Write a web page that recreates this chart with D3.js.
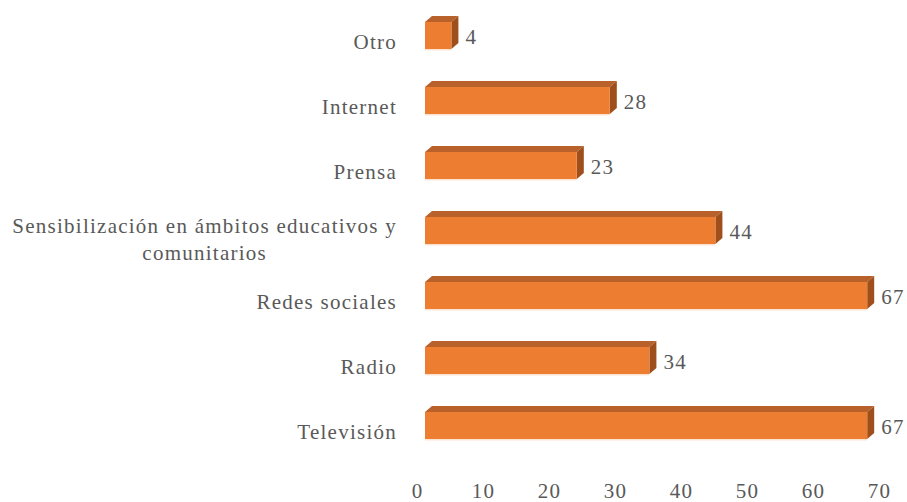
<!DOCTYPE html>
<html>
<head>
<meta charset="utf-8">
<script src="https://cdn.jsdelivr.net/npm/d3@7"></script>
<style>
  html, body { margin: 0; padding: 0; background: #ffffff; }
</style>
</head>
<body>
<svg id="chart" width="907" height="502"></svg>
<script>
// Medios por los que se recibe la información (frecuencias)
const categories = [
  "Otro",
  "Internet",
  "Prensa",
  "Sensibilización en ámbitos educativos y comunitarios",
  "Redes sociales",
  "Radio",
  "Televisión"
];
const values = [4, 28, 23, 44, 67, 34, 67];
const tickValues = [0, 10, 20, 30, 40, 50, 60, 70];

const FONT = "'Liberation Serif', 'DejaVu Serif', Tinos, 'Noto Serif', serif";
const TEXT_COLOR = "#595959";

const svg = d3.select("#chart");
const fontSize = 21;
const letterSpacing = 1.25;

// Plot geometry
const x = d3.scaleLinear().domain([0, 70]).range([425, 887]);
const y = d3.scaleBand()
  .domain(categories)
  .range([3, 458])
  .paddingInner(0.585)
  .paddingOuter(0.2925);

// Depth of the extruded bars
const dx = 7, dy = -6;

const colFront = "#ED7D31";
const colTop = "#B9612A";
const colSide = "#9E4F1C";

function styleText(sel) {
  return sel
    .attr("font-family", FONT)
    .style("font-family", FONT)
    .attr("font-size", fontSize)
    .attr("letter-spacing", letterSpacing)
    .attr("fill", TEXT_COLOR)
    .style("fill", TEXT_COLOR);
}

const rows = categories.map((c, i) => ({ cat: c, val: values[i] }));

const bars = svg.append("g").attr("class", "bars");
const g = bars.selectAll("g.bar").data(rows).join("g").attr("class", "bar");

// soft glow under each bar
g.append("rect")
  .attr("x", x(0))
  .attr("y", d => y(d.cat) + y.bandwidth() - 0.5)
  .attr("width", d => x(d.val) - x(0))
  .attr("height", 2)
  .attr("fill", "#FBE3D2");

// top face
g.append("polygon")
  .attr("points", d => {
    const x0 = x(0), x1 = x(d.val), y0 = y(d.cat);
    return [[x0, y0], [x0 + dx, y0 + dy], [x1 + dx, y0 + dy], [x1, y0]].join(" ");
  })
  .attr("fill", colTop);

// side face
g.append("polygon")
  .attr("points", d => {
    const x1 = x(d.val), y0 = y(d.cat), y1 = y0 + y.bandwidth();
    return [[x1, y0], [x1 + dx, y0 + dy], [x1 + dx, y1 + dy], [x1, y1]].join(" ");
  })
  .attr("fill", colSide);

// front face
g.append("rect")
  .attr("x", x(0))
  .attr("y", d => y(d.cat))
  .attr("width", d => x(d.val) - x(0))
  .attr("height", y.bandwidth())
  .attr("fill", colFront);

// value labels
styleText(g.append("text"))
  .attr("x", d => x(d.val) + dx + 7)
  .attr("y", d => y(d.cat) + y.bandwidth() / 2 + 8)
  .text(d => d.val);

// category labels (wrapped, lines centred within the block, block right-aligned)
const labelRight = 397;
const maxLabelWidth = 410;
const lineHeight = 27;
const cats = svg.append("g").attr("class", "categories");
categories.forEach(c => {
  const cy = y(c) + y.bandwidth() / 2;
  const t = styleText(cats.append("text")).attr("text-anchor", "middle");
  const words = c.split(" ");
  const lines = [];
  let cur = [];
  const probe = t.append("tspan");
  words.forEach(w => {
    const test = cur.concat(w).join(" ");
    probe.text(test);
    if (probe.node().getComputedTextLength() > maxLabelWidth && cur.length) {
      lines.push(cur.join(" "));
      cur = [w];
    } else {
      cur.push(w);
    }
  });
  lines.push(cur.join(" "));
  probe.remove();
  let maxW = 0;
  const spans = lines.map(l => {
    const s = t.append("tspan").text(l);
    maxW = Math.max(maxW, s.node().getComputedTextLength());
    return s;
  });
  const cx = labelRight - maxW / 2;
  const firstBase = cy + 13.5 - (lines.length - 1) * 11;
  spans.forEach((s, i) => s.attr("x", cx).attr("y", firstBase + i * lineHeight));
});

// value axis (labels only)
const axis = d3.axisBottom(x).tickValues(tickValues).tickSize(0).tickPadding(0);
const ax = svg.append("g")
  .attr("class", "x-axis")
  .attr("transform", "translate(-8,0)")
  .call(axis);
ax.select(".domain").remove();
styleText(ax.selectAll("text"))
  .attr("y", 498)
  .attr("dy", null);
</script>
</body>
</html>
